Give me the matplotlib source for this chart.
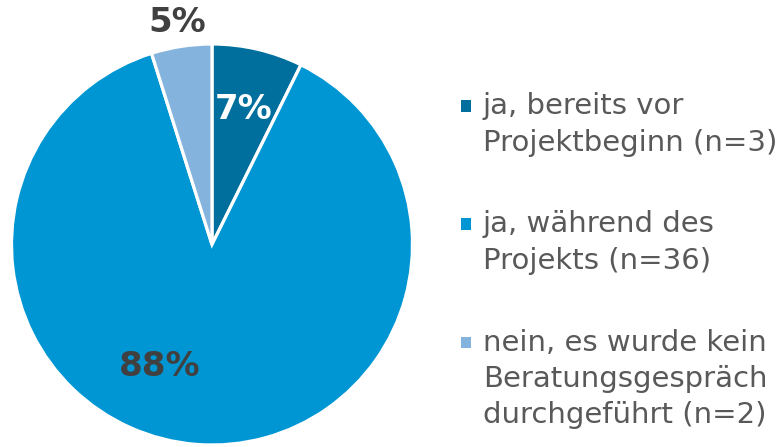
import matplotlib
matplotlib.use("Agg")
import matplotlib.pyplot as plt
import numpy as np
from matplotlib.patches import Rectangle

labels = ["ja, bereits vor\nProjektbeginn (n=3)",
          "ja, während des\nProjekts (n=36)",
          "nein, es wurde kein\nBeratungsgespräch\ndurchgeführt (n=2)"]
counts = [3, 36, 2]
colors = ["#006F9D", "#0096D3", "#84B4DE"]

W, H = 784, 447
fig = plt.figure(figsize=(W / 100, H / 100), dpi=100)
cx, cy, r = 212, 447 - 244.5, 200.5
ax = fig.add_axes([(cx - r) / W, (cy - r) / H, 2 * r / W, 2 * r / H])
wedges, _ = ax.pie(counts, colors=colors, startangle=90, counterclock=False,
                   radius=1.0, wedgeprops=dict(edgecolor="white", linewidth=2.3))
ax.set_xlim(-1, 1)
ax.set_ylim(-1, 1)
ax.set_aspect("equal")
ax.axis("off")

total = sum(counts)
pcts = [f"{round(c / total * 100)}%" for c in counts]

def mid(w):
    a = np.deg2rad((w.theta1 + w.theta2) / 2)
    return np.cos(a), np.sin(a)

fs = 24.5
# 7% inside
mx, my = mid(wedges[0])
ax.text(0.69 * mx, 0.69 * my, pcts[0], color="white", fontsize=fs, fontweight="bold",
        ha="center", va="center", family="DejaVu Sans")
# 88% inside
ax.text(-0.26, -0.61, pcts[1], color="#404040", fontsize=fs, fontweight="bold",
        ha="center", va="center", family="DejaVu Sans")
# 5% outside
mx, my = mid(wedges[2])
ax.text(1.12 * mx, 1.12 * my, pcts[2], color="#404040", fontsize=fs, fontweight="bold",
        ha="center", va="center", family="DejaVu Sans", clip_on=False)

# legend drawn manually
y0 = 106
step = 118
for i, (lab, col) in enumerate(zip(labels, colors)):
    yc = y0 + i * step
    fig.patches.append(Rectangle((461 / W, 1 - (yc + 5.5) / H), 10.5 / W, 11 / H,
                                 transform=fig.transFigure, facecolor=col, edgecolor="none"))
    fig.text(483 / W, 1 - (yc - 13.5) / H, lab, fontsize=21, color="#595959",
             ha="left", va="top", linespacing=1.37, family="DejaVu Sans")

fig.savefig("out.png", dpi=100)
